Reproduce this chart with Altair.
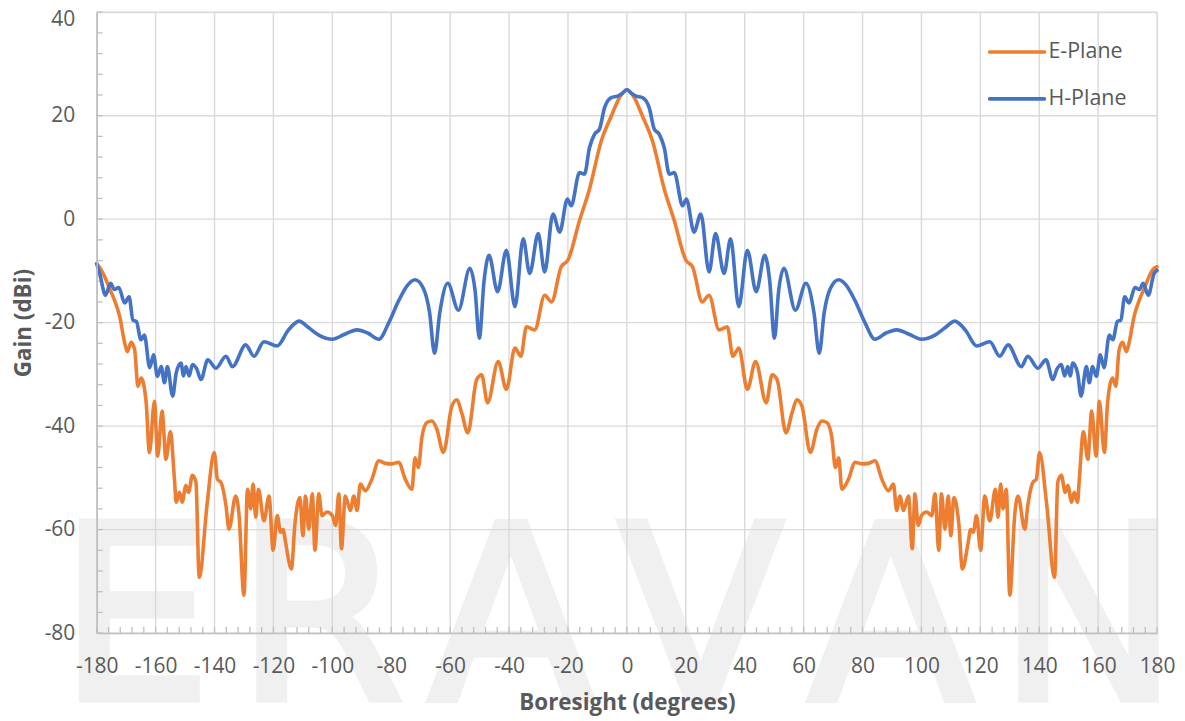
import altair as alt
import pandas as pd

# ---------------- data ----------------
SERIES = ["E-Plane", "H-Plane"]
COLORS = ["#ED7D31", "#4472C4"]

E_PLANE = [
    (-180, -8.6), (-178.5, -9.8), (-177, -11.5), (-175.5, -13.6), (-174, -15.6), (-172.2, -18.8),
    (-170.5, -23.9), (-169.6, -25.6), (-168.3, -23.8), (-167.1, -25.3), (-166, -32.3), (-164.9, -30.7),
    (-163.2, -35.5), (-162.1, -45.1), (-160.4, -35.2), (-159.3, -45.8), (-157.8, -37.1), (-156.5, -46.4),
    (-155, -41.1), (-153.6, -50.3), (-153, -54.7), (-151.9, -52.8), (-151, -54.7), (-149.7, -51.5),
    (-148.8, -52.8), (-147.5, -49.5), (-146.3, -50.8), (-145.2, -69.2), (-142.5, -55), (-140.1, -45.1),
    (-139, -50.3), (-137.8, -50.9), (-136.1, -55.4), (-135.1, -59.9), (-132.8, -53.5), (-131.7, -57),
    (-130, -72.7), (-128.8, -52.2), (-127.7, -56), (-126.9, -51.2), (-126, -57.6), (-125.1, -52.2),
    (-123.2, -58.3), (-121.5, -53.5), (-120.1, -64), (-118.7, -57.3), (-117.6, -60.5), (-116.7, -60),
    (-115.9, -62.4), (-113.9, -67.6), (-112.7, -58.9), (-111, -53.8), (-110, -61.2), (-109.1, -53.5),
    (-108, -59.9), (-106.8, -53.1), (-105.9, -64), (-104.6, -53.1), (-103.5, -57.3), (-101.8, -56.6),
    (-100, -57.3), (-98.9, -59.2), (-97.8, -53.1), (-96.9, -63.7), (-95.6, -53.5), (-93.9, -56.3),
    (-92.7, -53.5), (-91.6, -56.3), (-90.5, -51.2), (-88.8, -52.5), (-86.6, -50.3), (-84.2, -46.7),
    (-82, -47.2), (-80, -47.3), (-77.5, -47), (-75.2, -50.3), (-73, -52.2), (-71.9, -46.1),
    (-70.8, -48), (-69.6, -42.2), (-67.9, -39.3), (-66.2, -39), (-64.5, -40.6), (-62.3, -45.1),
    (-59.4, -36.1), (-57.7, -34.9), (-56.1, -37.4), (-54, -41.3), (-51, -31), (-49.3, -30.1),
    (-47.3, -35.5), (-43.7, -27.5), (-40.9, -32.9), (-38, -24.9), (-36, -26.5), (-34.1, -20.8),
    (-31.3, -21.4), (-27.9, -14.7), (-25.6, -16), (-22.3, -9.2), (-20, -7.9), (-16.1, -0.3),
    (-12.7, 5.8), (-8.7, 15.1), (-5.3, 19.9), (-2.5, 23.5), (0, 25),
    (2.5, 23.5), (5.3, 19.9), (8.7, 15.1), (12.7, 5.8), (16.1, -0.3), (20, -7.9),
    (22.3, -9.2), (25.6, -16), (27.9, -14.7), (31.3, -21.4), (34.1, -20.8), (36, -26.5),
    (38, -24.9), (40.9, -32.9), (43.7, -27.5), (47.3, -35.5), (49.3, -30.1), (51, -31),
    (54, -41.3), (56.1, -37.4), (57.7, -34.9), (59.4, -36.1), (62.3, -45.1), (64.5, -40.6),
    (66.2, -39), (67.9, -39.3), (69.6, -42.2), (70.8, -48), (71.9, -46.1), (73, -52.2),
    (75.2, -50.3), (77.5, -47), (80, -47.3), (82, -47.2), (84.2, -46.7), (86.6, -50.3),
    (88.8, -52.5), (90.5, -51.2), (91.6, -56.3), (92.7, -53.5), (93.9, -56.3), (95.6, -53.5),
    (96.9, -63.7), (97.8, -53.1), (98.9, -59.2), (100, -57.3), (101.8, -56.6), (103.5, -57.3),
    (104.6, -53.1), (105.9, -64), (106.8, -53.1), (108, -59.9), (109.1, -53.5), (110, -61.2),
    (111, -53.8), (112.7, -58.9), (113.9, -67.6), (115.9, -62.4), (116.7, -60), (117.6, -60.5),
    (118.7, -57.3), (120.1, -64), (121.5, -53.5), (123.2, -58.3), (125.1, -52.2), (126, -57.6),
    (126.9, -51.2), (127.7, -56), (128.8, -52.2), (130, -72.7), (131.7, -57), (132.8, -53.5),
    (135.1, -59.9), (136.1, -55.4), (137.8, -50.9), (139, -50.3), (140.1, -45.1), (142.5, -55),
    (145.2, -69.2), (146.3, -50.8), (147.5, -49.5), (148.8, -52.8), (149.7, -51.5), (151, -54.7),
    (151.9, -52.8), (153, -54.7), (153.6, -50.3), (155, -41.1), (156.5, -46.4), (157.8, -37.1),
    (159.3, -45.8), (160.4, -35.2), (162.1, -45.1), (163.2, -35.5), (164.9, -30.7), (166, -32.3),
    (167.1, -25.3), (168.3, -23.8), (169.6, -25.6), (170.5, -23.9), (172.2, -18.8), (174, -15.6),
    (175.5, -13.6), (177, -11.5), (178.5, -9.8), (180, -9.2),
]

H_PLANE = [
    (-180, -8.6), (-179, -10.5), (-177, -14.7), (-175.3, -12.4), (-174, -13.6), (-172.5, -13.2),
    (-170.5, -16.2), (-169, -15.0), (-167.7, -19.5), (-166.5, -19.8), (-165, -23.3), (-163.8, -22.4),
    (-162, -28.7), (-160.7, -26.2), (-159.4, -30.4), (-158.1, -28.5), (-157, -31.6), (-156, -28.5),
    (-154.2, -34.2), (-153, -29.7), (-151.4, -27.8), (-150.5, -30.3), (-149.7, -28.5), (-148.6, -30.3),
    (-147.5, -28.1), (-146, -29), (-144.6, -31), (-142.3, -27.2), (-139.5, -28.8), (-136.1, -26.5),
    (-133.9, -28.5), (-129.4, -24.3), (-126.6, -26.5), (-123.2, -23.7), (-118.7, -24.5), (-115, -21.5),
    (-111.3, -19.7), (-108, -21), (-104.6, -22.4), (-100, -23.2), (-96, -22.3), (-91.6, -21.4),
    (-88, -22), (-84.2, -23.2), (-80.9, -20.1), (-77.5, -15.8), (-74.5, -12.8), (-71.9, -11.7),
    (-69, -13.5), (-67, -18), (-65.3, -25.9), (-63.5, -18), (-60.8, -12.4), (-57.2, -17.6),
    (-53.3, -9.5), (-51.5, -14), (-50.1, -23), (-48.5, -12), (-46.8, -7), (-43.9, -14),
    (-40.9, -6), (-38, -16.9), (-35.2, -3.8), (-33, -10.5), (-30.1, -2.8), (-27.9, -10.2),
    (-25.1, 1.0), (-22.8, -2.5), (-20.2, 3.9), (-18.9, 2.6), (-16.1, 9.0), (-14.4, 8.7),
    (-12.7, 13.8), (-11, 16.4), (-9.3, 17.4), (-7.6, 21.5), (-5.3, 23.5), (-3.1, 23.8),
    (-1.4, 24.4), (0, 25),
    (1.4, 24.4), (3.1, 23.8), (5.3, 23.5), (7.6, 21.5), (9.3, 17.4), (11, 16.4),
    (12.7, 13.8), (14.4, 8.7), (16.1, 9.0), (18.9, 2.6), (20.2, 3.9), (22.8, -2.5),
    (25.1, 1.0), (27.9, -10.2), (30.1, -2.8), (33, -10.5), (35.2, -3.8), (38, -16.9),
    (40.9, -6), (43.9, -14), (46.8, -7), (48.5, -12), (50.1, -23), (51.5, -14),
    (53.3, -9.5), (57.2, -17.6), (60.8, -12.4), (63.5, -18), (65.3, -25.9), (67, -18),
    (69, -13.5), (71.9, -11.7), (74.5, -12.8), (77.5, -15.8), (80.9, -20.1), (84.2, -23.2),
    (88, -22), (91.6, -21.4), (96, -22.3), (100, -23.2), (104.6, -22.4), (108, -21),
    (111.3, -19.7), (115, -21.5), (118.7, -24.5), (123.2, -23.7), (126.6, -26.5), (129.4, -24.3),
    (133.9, -28.5), (136.1, -26.5), (139.5, -28.8), (142.3, -27.2), (144.6, -31), (146, -29),
    (147.5, -28.1), (148.6, -30.3), (149.7, -28.5), (150.5, -30.3), (151.4, -27.8), (153, -29.7),
    (154.2, -34.2), (156, -28.5), (157, -31.6), (158.1, -28.5), (159.4, -30.4), (160.7, -26.2),
    (162, -28.7), (163.8, -22.4), (165, -23.3), (166.5, -19.8), (167.7, -19.5), (169, -15.0),
    (170.5, -16.2), (172.5, -13.2), (174, -13.6), (175.3, -12.4), (177, -14.7), (179, -10.5),
    (180, -9.9),
]

X_TICKS = [-180, -160, -140, -120, -100, -80, -60, -40, -20, 0, 20, 40, 60, 80, 100, 120, 140, 160, 180]
Y_TICKS = [-80, -60, -40, -20, 0, 20, 40]
X_MINOR = list(range(-180, 181, 4))
Y_MINOR = list(range(-80, 41, 4))

X_TITLE = "Boresight (degrees)"
Y_TITLE = "Gain (dBi)"
WATERMARK = "E\u200aR\u200aA\u200aV\u200aA\u200aN\u200aT"

# ---------------- chart ----------------
W, H = 1064, 623
FONT = "Open Sans"
TXT = "#595959"
GRID = "#d9d9d9"
AXIS = "#bfbfbf"

xs = alt.Scale(domain=[-180, 180], nice=False, zero=False)
ys = alt.Scale(domain=[-80, 40], nice=False, zero=False)

x_axis = alt.Axis(values=X_TICKS, grid=False, ticks=False, title=X_TITLE, labelFont=FONT,
                  labelFontSize=21, labelColor=TXT, labelPadding=23, titleFont=FONT,
                  labelExpr="datum.value + ''",
                  titleFontSize=22.5, titleFontWeight="bold", titleColor=TXT, titlePadding=15,
                  domainColor=AXIS, domainWidth=1.6, zindex=1, labelFlush=False)
y_axis = alt.Axis(values=Y_TICKS, grid=False, ticks=False, title=Y_TITLE, labelFont=FONT,
                  labelFontSize=21, labelColor=TXT, labelPadding=22, titleFont=FONT,
                  labelExpr="datum.value + ''",
                  labelOffset=alt.condition("datum.value == 40", alt.value(7), alt.value(0)),
                  titleFontSize=22.5, titleFontWeight="bold", titleColor=TXT, titlePadding=9,
                  domainColor=AXIS, domainWidth=1.6, zindex=1)

e_df = pd.DataFrame(E_PLANE, columns=["deg", "gain"])
h_df = pd.DataFrame(H_PLANE, columns=["deg", "gain"])

watermark = alt.Chart(pd.DataFrame({"t": [WATERMARK]})).mark_text(
    font="DejaVu Sans", fontSize=243, color="#f0f0f0", stroke="#f0f0f0", strokeWidth=7,
    align="left", baseline="alphabetic"
).encode(x=alt.value(-38), y=alt.value(689), text="t:N")

vgrid = alt.Chart(pd.DataFrame({"deg": X_TICKS})).mark_rule(color=GRID, strokeWidth=1.4).encode(
    x=alt.X("deg:Q", scale=xs, axis=x_axis), y=alt.value(0), y2=alt.value(H))
hgrid = alt.Chart(pd.DataFrame({"gain": Y_TICKS})).mark_rule(color=GRID, strokeWidth=1.4).encode(
    y=alt.Y("gain:Q", scale=ys, axis=y_axis), x=alt.value(0), x2=alt.value(W))

xminor = alt.Chart(pd.DataFrame({"deg": X_MINOR})).mark_rule(color=AXIS, strokeWidth=1.3).encode(
    x=alt.X("deg:Q", scale=xs, axis=x_axis), y=alt.value(H - 6), y2=alt.value(H))
yminor = alt.Chart(pd.DataFrame({"gain": Y_MINOR})).mark_rule(color=AXIS, strokeWidth=1.3).encode(
    y=alt.Y("gain:Q", scale=ys, axis=y_axis), x=alt.value(0), x2=alt.value(6))

e_line = alt.Chart(e_df).mark_line(color=COLORS[0], strokeWidth=3.6, interpolate="monotone",
                                   strokeJoin="round", strokeCap="round").encode(
    x=alt.X("deg:Q", scale=xs, axis=x_axis),
    y=alt.Y("gain:Q", scale=ys, axis=y_axis))
h_line = alt.Chart(h_df).mark_line(color=COLORS[1], strokeWidth=3.6, interpolate="monotone",
                                   strokeJoin="round", strokeCap="round").encode(
    x=alt.X("deg:Q", scale=xs, axis=x_axis),
    y=alt.Y("gain:Q", scale=ys, axis=y_axis))

leg_rows = [
    (SERIES[0], COLORS[0], 40),
    (SERIES[1], COLORS[1], 87),
]
legend_layers = []
for name, col, ypx in leg_rows:
    d = pd.DataFrame({"s": [name]})
    legend_layers.append(alt.Chart(d).mark_rule(color=col, strokeWidth=3.6, strokeCap="round").encode(
        x=alt.value(896), x2=alt.value(951), y=alt.value(ypx)))
    legend_layers.append(alt.Chart(d).mark_text(align="left", baseline="middle", font=FONT,
                                                fontSize=21.5, color=TXT).encode(
        x=alt.value(955), y=alt.value(ypx), text="s:N"))

chart = alt.layer(watermark, vgrid, hgrid, xminor, yminor, e_line, h_line, *legend_layers).properties(
    width=W, height=H,
    padding={"left": 89, "top": 3, "right": 20, "bottom": 86},
    autosize=alt.AutoSizeParams(type="none"),
).configure_view(stroke=None).configure(background="white")

chart.save("out.html", embed_options={"renderer": "svg", "actions": False})
